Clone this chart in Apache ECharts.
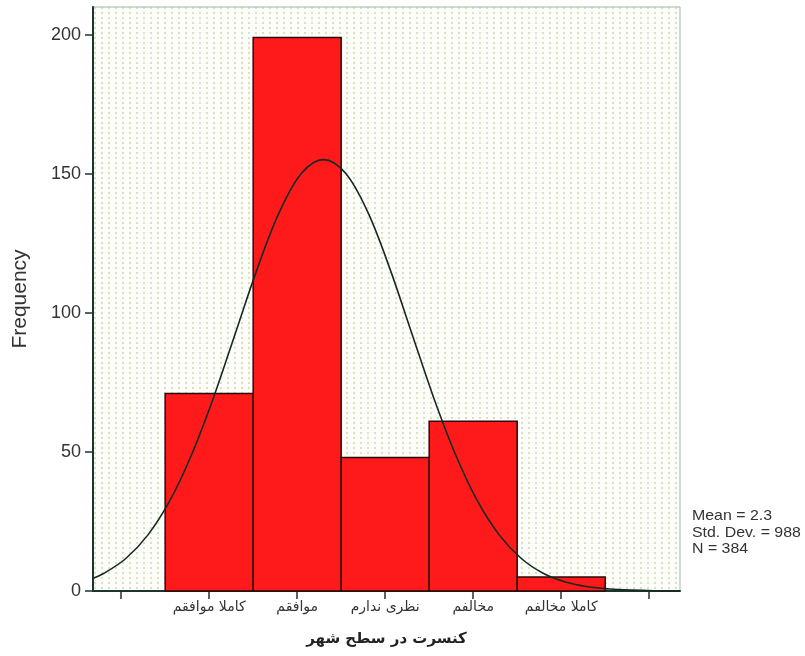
<!DOCTYPE html>
<html>
<head>
<meta charset="utf-8">
<script src="https://cdn.jsdelivr.net/npm/echarts@6/dist/echarts.min.js"></script>
<style>html,body{margin:0;padding:0;background:#fff;}#c{width:805px;height:656px;}</style>
</head>
<body>
<div id="c"></div>
<script>
var categories = ['کاملا موافقم', 'موافقم', 'نظری ندارم', 'مخالفم', 'کاملا مخالفم'];
var categoryPos = [1, 2, 3, 4, 5];
var frequencies = [71, 199, 48, 61, 5];
var curveX = [-0.32, -0.2, 0.05, 0.3, 0.55, 0.8, 1.05, 1.3, 1.55, 1.8, 2.05, 2.3, 2.55, 2.8, 3.05, 3.3, 3.55, 3.8, 4.05, 4.3, 4.55, 4.8, 5.05, 5.3, 5.55, 5.8, 6.05, 6.35];
var curveY = [4.6, 6.3, 11.6, 20.0, 32.3, 49.0, 69.6, 92.9, 116.2, 136.4, 150.2, 155.1, 150.2, 136.4, 116.2, 92.9, 69.6, 49.0, 32.3, 20.0, 11.6, 6.3, 3.2, 1.5, 0.7, 0.3, 0.1, 0.03];
var yTicks = [0, 50, 100, 150, 200];
var xTicks = [0, 1, 2, 3, 4, 5, 6];
var statsLines = ['Mean = 2.3', 'Std. Dev. = 988', 'N = 384'];

var pc = document.createElement('canvas');
pc.width = 7; pc.height = 5;
var pctx = pc.getContext('2d');
pctx.fillStyle = '#fdfdf9';
pctx.fillRect(0, 0, 7, 5);
pctx.fillStyle = '#dbe2c4';
pctx.fillRect(3, 2, 2, 2);

var barData = categoryPos.map(function (p, i) { return [p, frequencies[i]]; });
var curveData = curveX.map(function (x, i) { return [x, curveY[i]]; });

var chart = echarts.init(document.getElementById('c'), null, {renderer: 'canvas'});
chart.setOption({
  animation: false,
  backgroundColor: '#ffffff',
  textStyle: {fontFamily: 'Liberation Sans, Arial, sans-serif'},
  grid: {
    left: 93, right: 125, top: 7, bottom: 65,
    show: true,
    backgroundColor: {image: pc, repeat: 'repeat'},
    borderColor: '#9fb8a8', borderWidth: 1
  },
  xAxis: {
    type: 'value', min: -0.32, max: 6.35,
    splitLine: {show: false},
    axisLine: {show: true, onZero: false, lineStyle: {color: '#1c3531', width: 2}},
    axisTick: {show: true, length: 8, customValues: xTicks, lineStyle: {color: '#1c3531', width: 1.5}},
    axisLabel: {
      customValues: categoryPos, margin: 9,
      fontFamily: 'DejaVu Sans', fontSize: 14, color: '#333',
      formatter: function (v) { var i = categoryPos.indexOf(Math.round(v)); return i >= 0 ? categories[i] : ''; }
    },
    name: 'کنسرت در سطح شهر', nameLocation: 'middle', nameGap: 41,
    nameTextStyle: {fontFamily: 'DejaVu Sans', fontWeight: 'bold', fontSize: 15, color: '#222'}
  },
  yAxis: {
    type: 'value', min: 0, max: 210,
    splitLine: {show: false},
    axisLine: {show: true, onZero: false, lineStyle: {color: '#1c3531', width: 2}},
    axisTick: {show: true, length: 8, customValues: yTicks, lineStyle: {color: '#1c3531', width: 1.5}},
    axisLabel: {customValues: yTicks, fontSize: 18, color: '#333', margin: 12},
    name: 'Frequency', nameLocation: 'middle', nameGap: 62, nameRotate: 90,
    nameTextStyle: {fontSize: 21, color: '#333'}
  },
  series: [
    {
      type: 'custom',
      data: barData,
      renderItem: function (params, api) {
        var x = api.value(0), y = api.value(1);
        var p1 = api.coord([x - 0.5, y]);
        var p2 = api.coord([x + 0.5, 0]);
        return {
          type: 'rect',
          shape: {x: p1[0], y: p1[1], width: p2[0] - p1[0], height: p2[1] - p1[1]},
          style: {fill: '#fe1a1a', stroke: '#2a0a0a', lineWidth: 1.5}
        };
      },
      z: 2
    },
    {
      type: 'line',
      data: curveData,
      smooth: 0.35,
      showSymbol: false,
      lineStyle: {color: '#142a22', width: 1.6},
      z: 3
    }
  ],
  graphic: [
    {
      type: 'text', left: 692, top: 508, scaleX: 1.06,
      style: {text: statsLines.join('\n'), font: '15px Liberation Sans, Arial, sans-serif', fill: '#333', lineHeight: 16.5}
    }
  ]
});
</script>
</body>
</html>
